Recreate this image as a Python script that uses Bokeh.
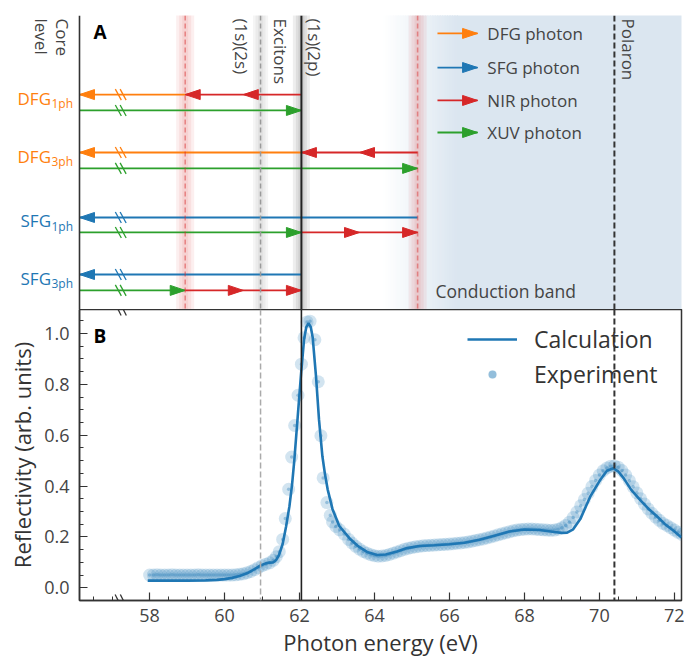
import math
from bokeh.plotting import figure
from bokeh.models import (Range1d, Span, FixedTicker, Legend, LegendItem,
                          PrintfTickFormatter, Arrow)
from bokeh.embed import file_html
from bokeh.resources import INLINE
from bokeh.core.properties import value

# ---------------- data ----------------
# energy levels (eV)
E_CORE = 56.13          # left edge (core level, broken axis)
E_LOW = 58.95           # 2 NIR photons below (1s)(2p)
E_MID_LOW = 60.50       # 1 NIR photon below (1s)(2p)
E_2S = 60.96            # (1s)(2s) exciton
E_2P = 62.05            # (1s)(2p) exciton
E_MID_HIGH = 63.60      # 1 NIR photon above (1s)(2p)
E_HIGH = 65.15          # 2 NIR photons above (1s)(2p)
E_POLARON = 70.40
E_RIGHT = 72.19
E_BREAK = 57.23
CB_START = 64.24        # conduction band fades in
CB_FULL = 66.21

row_names = ["DFG", "DFG", "SFG", "SFG"]
row_subs = ["1ph", "3ph", "1ph", "3ph"]
row_y = [7.31, 5.34, 3.13, 1.19]      # emission rows
xuv_y = [6.77, 4.80, 2.62, 0.65]      # XUV rows

calc_E = [57.95, 58.5, 59.0, 59.5, 59.8, 60.0, 60.2, 60.4, 60.6, 60.8,
          60.95, 61.1, 61.2, 61.3, 61.37, 61.45, 61.55, 61.64, 61.73, 61.8,
          61.86, 61.95, 62.04, 62.12, 62.18, 62.24, 62.3, 62.35, 62.44, 62.52,
          62.61, 62.68, 62.75, 62.88, 63.06, 63.33, 63.55, 63.8, 64.07, 64.3,
          64.6, 64.87, 65.2, 65.6, 66.0, 66.4, 66.8, 67.2, 67.6, 68.0,
          68.4, 68.8, 69.0, 69.14, 69.3, 69.49, 69.76, 70.03, 70.2, 70.37,
          70.5, 70.65, 70.85, 71.09, 71.3, 71.54, 71.75, 71.98, 72.19]
calc_R = [0.028, 0.028, 0.028, 0.029, 0.031, 0.034, 0.039, 0.046, 0.057, 0.073,
          0.087, 0.096, 0.099, 0.100, 0.108, 0.128, 0.172, 0.240, 0.320, 0.405,
          0.500, 0.670, 0.840, 0.975, 1.025, 1.040, 1.025, 0.985, 0.830, 0.660,
          0.517, 0.445, 0.387, 0.309, 0.243, 0.195, 0.165, 0.141, 0.129, 0.131,
          0.143, 0.156, 0.164, 0.167, 0.171, 0.177, 0.189, 0.205, 0.221, 0.229,
          0.227, 0.219, 0.216, 0.217, 0.230, 0.270, 0.360, 0.426, 0.460, 0.470,
          0.458, 0.430, 0.385, 0.345, 0.312, 0.280, 0.250, 0.224, 0.198]

exp_E = [58.0, 58.1, 58.2, 58.3, 58.4, 58.5, 58.6, 58.7, 58.8, 58.9,
         59.0, 59.1, 59.2, 59.3, 59.4, 59.5, 59.6, 59.7, 59.8, 59.9,
         60.0, 60.1, 60.2, 60.3, 60.4, 60.5, 60.6, 60.7, 60.8, 60.9,
         61.0, 61.1, 61.2, 61.3, 61.38, 61.46, 61.55, 61.62, 61.71, 61.79,
         61.87, 61.96, 62.05, 62.12, 62.2, 62.28, 62.41, 62.5, 62.57, 62.63,
         62.73, 62.82, 62.88, 62.97, 63.07, 63.19, 63.31, 63.4, 63.5, 63.6,
         63.7, 63.8, 63.9, 64.0, 64.1, 64.2, 64.3, 64.4, 64.5, 64.6,
         64.7, 64.8, 64.9, 65.0, 65.1, 65.2, 65.3, 65.4, 65.5, 65.6,
         65.7, 65.8, 65.9, 66.0, 66.1, 66.2, 66.3, 66.4, 66.5, 66.6,
         66.7, 66.8, 66.9, 67.0, 67.1, 67.2, 67.3, 67.4, 67.5, 67.6,
         67.7, 67.8, 67.9, 68.0, 68.1, 68.2, 68.3, 68.4, 68.5, 68.6,
         68.7, 68.8, 68.9, 69.0, 69.1, 69.2, 69.3, 69.4, 69.5, 69.6,
         69.7, 69.8, 69.9, 70.0, 70.1, 70.2, 70.3, 70.4, 70.5, 70.6,
         70.7, 70.8, 70.9, 71.0, 71.1, 71.2, 71.3, 71.4, 71.5, 71.6,
         71.7, 71.8, 71.9, 72.0, 72.1, 72.2]
exp_R = [0.050, 0.050, 0.051, 0.050, 0.050, 0.050, 0.051, 0.050, 0.050, 0.050,
         0.050, 0.050, 0.050, 0.051, 0.050, 0.050, 0.050, 0.050, 0.050, 0.050,
         0.050, 0.050, 0.050, 0.051, 0.053, 0.055, 0.059, 0.064, 0.071, 0.079,
         0.087, 0.093, 0.098, 0.108, 0.122, 0.142, 0.190, 0.272, 0.387, 0.514,
         0.638, 0.757, 0.879, 0.983, 1.045, 1.048, 0.975, 0.810, 0.598, 0.432,
         0.335, 0.285, 0.259, 0.241, 0.228, 0.211, 0.190, 0.176, 0.163, 0.152,
         0.143, 0.136, 0.130, 0.126, 0.124, 0.125, 0.127, 0.131, 0.136, 0.141,
         0.146, 0.151, 0.155, 0.158, 0.161, 0.163, 0.165, 0.166, 0.167, 0.168,
         0.169, 0.170, 0.171, 0.172, 0.173, 0.175, 0.176, 0.178, 0.180, 0.183,
         0.186, 0.189, 0.192, 0.196, 0.200, 0.204, 0.208, 0.212, 0.216, 0.220,
         0.224, 0.227, 0.229, 0.230, 0.231, 0.231, 0.230, 0.229, 0.228, 0.227,
         0.226, 0.227, 0.230, 0.236, 0.245, 0.258, 0.276, 0.298, 0.322, 0.347,
         0.372, 0.398, 0.422, 0.443, 0.460, 0.471, 0.478, 0.479, 0.474, 0.461,
         0.443, 0.421, 0.397, 0.373, 0.350, 0.329, 0.310, 0.293, 0.278, 0.265,
         0.253, 0.245, 0.236, 0.227, 0.218, 0.210]

x_major = [58, 60, 62, 64, 66, 68, 70, 72]
x_minor = [56.5, 57.0] + [58 + 0.5 * i for i in range(29)]
y_major = [0.0, 0.2, 0.4, 0.6, 0.8, 1.0]
y_minor = [0.05 * i for i in range(22)]

legendA_labels = ["DFG photon", "SFG photon", "NIR photon", "XUV photon"]

# ---------------- style ----------------
FONT = "Open Sans"
TXT = "#444444"
ORANGE, BLUE, RED, GREEN = "#ff7f0e", "#1f77b4", "#d62728", "#2ca02c"
CB_COLOR = (219, 230, 240)
W = 684
BORDER_L, BORDER_R = 79, 3
A_TOP, A_FRAME = 15, 294
B_FRAME, B_BOTTOM = 293, 57
HA = A_TOP + A_FRAME
HB = B_FRAME + B_BOTTOM
PX = (W - BORDER_L - BORDER_R) / (E_RIGHT - E_CORE)   # px per eV
PY_A = A_FRAME / 10.0                                 # px per A-unit
HEAD_L = 15 / PX
HEAD_W = 5 / PY_A
LW = 1.8

x_range = Range1d(E_CORE, E_RIGHT)
x_range_A = Range1d(E_CORE - BORDER_L / PX, E_RIGHT)


def txt(p, x, y, text, size="17px", color=TXT, align="left", baseline="alphabetic",
        angle=0, style="normal"):
    p.text(x=[x], y=[y], text=[text], text_font=value(FONT), text_font_size=value(size),
           text_color=color, text_align=align, text_baseline=baseline, angle=angle,
           text_font_style=style)


# ================= Panel A =================
pA = figure(width=W, height=HA, x_range=x_range_A, y_range=Range1d(0, 10),
            output_backend="svg", toolbar_location=None, x_axis_location=None,
            y_axis_location=None, min_border_left=0, min_border_right=BORDER_R,
            min_border_top=A_TOP, min_border_bottom=0, outline_line_color=None)
pA.grid.visible = False

# conduction band with soft edge
n = 30
step = (CB_FULL - CB_START) / n
lefts, rights, cols = [], [], []
for i in range(n):
    t = (i + 0.5) / n
    c = tuple(int(round(255 + (cc - 255) * t)) for cc in CB_COLOR)
    lefts.append(CB_START + i * step)
    rights.append(CB_START + (i + 1) * step + 0.005)
    cols.append("#%02x%02x%02x" % c)
lefts.append(CB_FULL)
rights.append(E_RIGHT + 1)
cols.append("#%02x%02x%02x" % CB_COLOR)
pA.quad(left=lefts, right=rights, bottom=-1, top=11, fill_color=cols,
        line_color=cols, level="underlay")


def glow(x, color, alpha, widths=(16, 11, 6)):
    for w in widths:
        pA.quad(left=[x - w / 2 / PX], right=[x + w / 2 / PX], bottom=[-1], top=[11],
                fill_color=color, fill_alpha=alpha, line_color=None, level="underlay")


glow(E_LOW, "#e34a4a", 0.09, (18, 12, 6))
glow(E_HIGH, "#e34a4a", 0.09, (18, 12, 6))
glow(E_2S, "#808080", 0.08, (15, 10, 5))
glow(E_2P, "#404040", 0.09, (17, 11, 6))

# photon arrows: (color, y, start, end, [head tips])
arrows = [
    (ORANGE, row_y[0], E_LOW, E_CORE, [E_CORE]),
    (RED, row_y[0], E_2P, E_LOW, [E_MID_LOW, E_LOW]),
    (GREEN, xuv_y[0], E_CORE, E_2P, [E_2P]),
    (ORANGE, row_y[1], E_2P, E_CORE, [E_CORE]),
    (RED, row_y[1], E_HIGH, E_2P, [E_MID_HIGH, E_2P]),
    (GREEN, xuv_y[1], E_CORE, E_HIGH, [E_HIGH]),
    (BLUE, row_y[2], E_HIGH, E_CORE, [E_CORE]),
    (GREEN, xuv_y[2], E_CORE, E_2P, [E_2P]),
    (RED, xuv_y[2], E_2P, E_HIGH, [E_MID_HIGH, E_HIGH]),
    (BLUE, row_y[3], E_2P, E_CORE, [E_CORE]),
    (GREEN, xuv_y[3], E_CORE, E_LOW, [E_LOW]),
    (RED, xuv_y[3], E_LOW, E_2P, [E_MID_LOW, E_2P]),
]

for color, y, x0, x1, tips in arrows:
    d = 1 if x1 > x0 else -1
    pA.line([x0, x1], [y, y], line_color=color, line_width=LW)
    xs = [[t, t - d * HEAD_L, t - d * HEAD_L] for t in tips]
    ys = [[y, y + HEAD_W, y - HEAD_W] for t in tips]
    pA.patches(xs, ys, fill_color=color, line_color=color, line_width=1)

# break marks on the rows
bdx, bdy = 3 / PX, 5.5 / PY_A
break_cols = [ORANGE, ORANGE, BLUE, BLUE]
for k in range(4):
    for yy, cc in ((row_y[k], break_cols[k]), (xuv_y[k], GREEN)):
        for off in (-2.4 / PX, 2.4 / PX):
            xc = E_BREAK + off
            pA.line([xc - bdx, xc + bdx], [yy + bdy, yy - bdy], line_color=cc, line_width=1.3)

# vertical markers
pA.add_layout(Span(location=E_CORE, dimension="height", line_color="#333333", line_width=1.6))
pA.add_layout(Span(location=E_LOW, dimension="height", line_color=RED, line_alpha=0.45,
                   line_dash="5 3", line_width=1.6))
pA.add_layout(Span(location=E_HIGH, dimension="height", line_color=RED, line_alpha=0.45,
                   line_dash="5 3", line_width=1.6))
pA.add_layout(Span(location=E_2S, dimension="height", line_color="#9a9a9a",
                   line_dash="5 3", line_width=1.5))
pA.add_layout(Span(location=E_2P, dimension="height", line_color="#222222", line_width=2))
pA.add_layout(Span(location=E_POLARON, dimension="height", line_color="#333333",
                   line_dash="6 3", line_width=2))

ROT = -math.pi / 2
TOP_Y = 10 - 3 / PY_A
txt(pA, E_CORE - 6 / PX, TOP_Y, "Core", angle=ROT, baseline="top")
txt(pA, E_CORE - 27 / PX, TOP_Y, "level", angle=ROT, baseline="top")
txt(pA, E_2S - 19 / PX, TOP_Y, "(1s)(2s)", angle=ROT)
txt(pA, E_2S + 20 / PX, TOP_Y, "Excitons", angle=ROT)
txt(pA, E_2P + 13 / PX, TOP_Y, "(1s)(2p)", angle=ROT)
txt(pA, E_POLARON + 14 / PX, TOP_Y, "Polaron", angle=ROT)
txt(pA, E_CORE + 14 / PX, 10 - 3 / PY_A, "A", size="19px", color="black",
    baseline="top", style="bold")
txt(pA, CB_START + 52 / PX, 10 - (290 - A_TOP) / PY_A, "Conduction band", size="17.5px")

label_cols = [ORANGE, ORANGE, BLUE, BLUE]
for k in range(4):
    xl = E_CORE - 28.5 / PX
    txt(pA, xl, row_y[k] - 3.5 / PY_A, row_names[k], size="17px", color=label_cols[k],
        align="right")
    txt(pA, xl + 0.5 / PX, row_y[k] - 9 / PY_A, row_subs[k], size="12px",
        color=label_cols[k])

# legend of panel A
legA_cols = [ORANGE, BLUE, RED, GREEN]
legA_y = [9.39, 8.23, 7.11, 6.02]
for k in range(4):
    y = legA_y[k]
    x0, x1 = 65.68, 66.75
    pA.line([x0, x1], [y, y], line_color=legA_cols[k], line_width=LW)
    pA.patches([[x1, x1 - HEAD_L, x1 - HEAD_L]], [[y, y + HEAD_W, y - HEAD_W]],
               fill_color=legA_cols[k], line_color=legA_cols[k])
    txt(pA, 67.01, y, legendA_labels[k], size="17px", baseline="middle")

# ================= Panel B =================
pB = figure(width=W, height=HB, x_range=x_range, y_range=Range1d(-0.05, 1.094),
            output_backend="svg", toolbar_location=None,
            min_border_left=BORDER_L, min_border_right=BORDER_R,
            min_border_top=0, min_border_bottom=B_BOTTOM,
            outline_line_color="#333333", outline_line_width=1.5)
pB.grid.visible = False

pB.add_layout(Span(location=E_2S, dimension="height", line_color="#aaaaaa",
                   line_dash="6 3", line_width=1.5))
pB.add_layout(Span(location=E_2P, dimension="height", line_color="#222222", line_width=1.6))
pB.add_layout(Span(location=E_POLARON, dimension="height", line_color="#333333",
                   line_dash="6 3", line_width=2))

r_exp1 = pB.scatter(exp_E, exp_R, size=13, fill_color=BLUE, fill_alpha=0.2, line_color=None)
r_exp2 = pB.scatter(exp_E, exp_R, size=3.5, fill_color=BLUE, fill_alpha=0.35, line_color=None)
r_calc = pB.line(calc_E, calc_R, line_color=BLUE, line_width=2.6)

for ax in (pB.xaxis[0], pB.yaxis[0]):
    ax.axis_line_color = "#333333"
    ax.axis_line_width = 1.5
    ax.major_tick_line_color = "#333333"
    ax.minor_tick_line_color = "#333333"
    ax.major_tick_line_width = 1.2
    ax.minor_tick_line_width = 1.0
    ax.major_tick_in = 8
    ax.major_tick_out = 0
    ax.minor_tick_in = 4
    ax.minor_tick_out = 0
    ax.major_label_text_font = FONT
    ax.major_label_text_font_size = "18px"
    ax.major_label_text_color = TXT
    ax.axis_label_text_font = FONT
    ax.axis_label_text_font_size = "22px"
    ax.axis_label_text_font_style = "normal"
    ax.axis_label_text_color = "#333333"

pB.xaxis.ticker = FixedTicker(ticks=x_major, minor_ticks=x_minor)
pB.xaxis.formatter = PrintfTickFormatter(format="%d")
pB.xaxis.axis_label = "Photon energy (eV)"
pB.xaxis.major_label_standoff = 8
pB.xaxis.axis_label_standoff = 2
pB.yaxis.ticker = FixedTicker(ticks=y_major, minor_ticks=y_minor)
pB.yaxis.formatter = PrintfTickFormatter(format="%.1f")
pB.yaxis.axis_label = "Reflectivity (arb. units)"
pB.yaxis.major_label_standoff = 10
pB.yaxis.axis_label_standoff = 4

PY_B = B_FRAME / (1.094 + 0.05)
txt(pB, E_CORE + 14 / PX, 1.094 - 14 / PY_B, "B", size="19px", color="black",
    baseline="top", style="bold")

# axis break marks on the shared x axes
for yb in (-0.05, 1.094):
    for off in (-2.6 / PX, 2.6 / PX):
        xc = E_BREAK + off
        pB.add_layout(Arrow(x_start=xc - 3 / PX, y_start=yb + 6 / PY_B, x_end=xc + 3 / PX,
                            y_end=yb - 6 / PY_B, start=None, end=None,
                            line_color="#333333", line_width=1.3))

# legend: left edge ~467 px, top ~329 px; location y is the legend bottom above frame bottom
LEG_H = 63
legend = Legend(items=[LegendItem(label="Calculation", renderers=[r_calc]),
                       LegendItem(label="Experiment", renderers=[r_exp1, r_exp2])],
                location=(467 - BORDER_L, B_FRAME - (329 - 309) - LEG_H),
                border_line_color=None, background_fill_alpha=0,
                label_text_font=FONT, label_text_font_size="23px",
                label_text_color="#333333", glyph_width=50, glyph_height=20,
                label_height=20, spacing=3, padding=0, margin=0, label_standoff=17)
pB.add_layout(legend)

open("out.html", "w").write(file_html([pA, pB], INLINE))
